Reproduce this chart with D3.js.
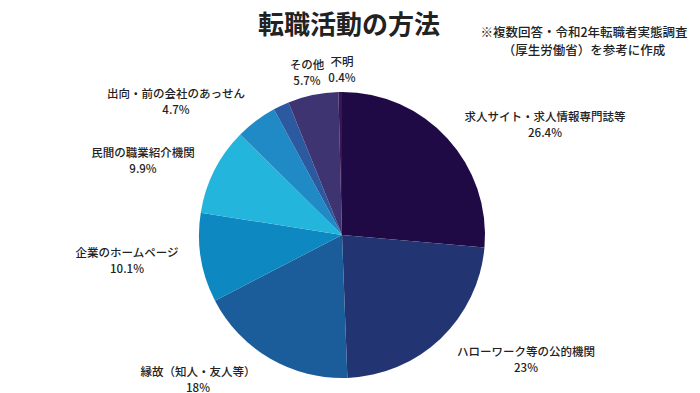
<!DOCTYPE html>
<html>
<head>
<meta charset="utf-8">
<script src="https://cdn.jsdelivr.net/npm/d3@7"></script>
<style>
  body { margin: 0; background: #fff; }
  svg text { font-family: "Noto Sans CJK JP", "Noto Sans", sans-serif; fill: #222; }
</style>
</head>
<body>
<div id="chart"></div>
<script>
// 転職活動の方法（複数回答）
var categories = ["求人サイト・求人情報専門誌等", "ハローワーク等の公的機関", "縁故（知人・友人等）",
  "企業のホームページ", "民間の職業紹介機関", "出向・前の会社のあっせん", "", "その他", "不明"];
var values = [26.4, 23, 18, 10.1, 9.9, 4.7, 1.8, 5.7, 0.4];
var valueLabels = ["26.4%", "23%", "18%", "10.1%", "9.9%", "4.7%", "", "5.7%", "0.4%"];
var colors = ["#200a45", "#233472", "#1a5d9a", "#0d88c0", "#24b5dd", "#1f8ac5", "#2c5aa0", "#3f3472", "#3a1550"];

// ラベルの位置（円の中心からのずれ、1行目のベースライン）
var labelPos = [[203, -114], [184, 121], [-144, 141], [-215, 22], [-199, -78], [-166, -137], null, [-35, -166], [0, -169]];

var width = 700, height = 393;
var cx = 342, cy = 235, r = 143;

var svg = d3.select("#chart").append("svg")
  .attr("width", width).attr("height", height);

svg.append("text")
  .attr("x", 349).attr("y", 34)
  .attr("text-anchor", "middle")
  .style("font-size", "26px").style("font-weight", "bold")
  .text("転職活動の方法");

var note = svg.append("text")
  .attr("text-anchor", "middle")
  .style("font-size", "12.5px").style("font-weight", "500");
note.append("tspan").attr("x", 584).attr("y", 37).text("※複数回答・令和2年転職者実態調査");
note.append("tspan").attr("x", 584).attr("y", 55).text("（厚生労働省）を参考に作成");

var pie = d3.pie().sort(null).value(d => d)(values);
var arc = d3.arc().innerRadius(0).outerRadius(r);

var g = svg.append("g").attr("transform", `translate(${cx},${cy})`);

g.selectAll("path")
  .data(pie)
  .enter().append("path")
  .attr("d", arc)
  .attr("fill", (d, i) => colors[i]);

var labels = g.selectAll("text.lbl")
  .data(pie.filter((d, i) => categories[i] !== ""))
  .enter().append("text")
  .attr("class", "lbl")
  .attr("text-anchor", "middle")
  .style("font-size", "11.5px").style("font-weight", "500");

labels.append("tspan")
  .attr("x", d => labelPos[d.index][0])
  .attr("y", d => labelPos[d.index][1])
  .text(d => categories[d.index]);
labels.append("tspan")
  .attr("x", d => labelPos[d.index][0])
  .attr("y", d => labelPos[d.index][1] + 15.5)
  .text(d => valueLabels[d.index]);
</script>
</body>
</html>
